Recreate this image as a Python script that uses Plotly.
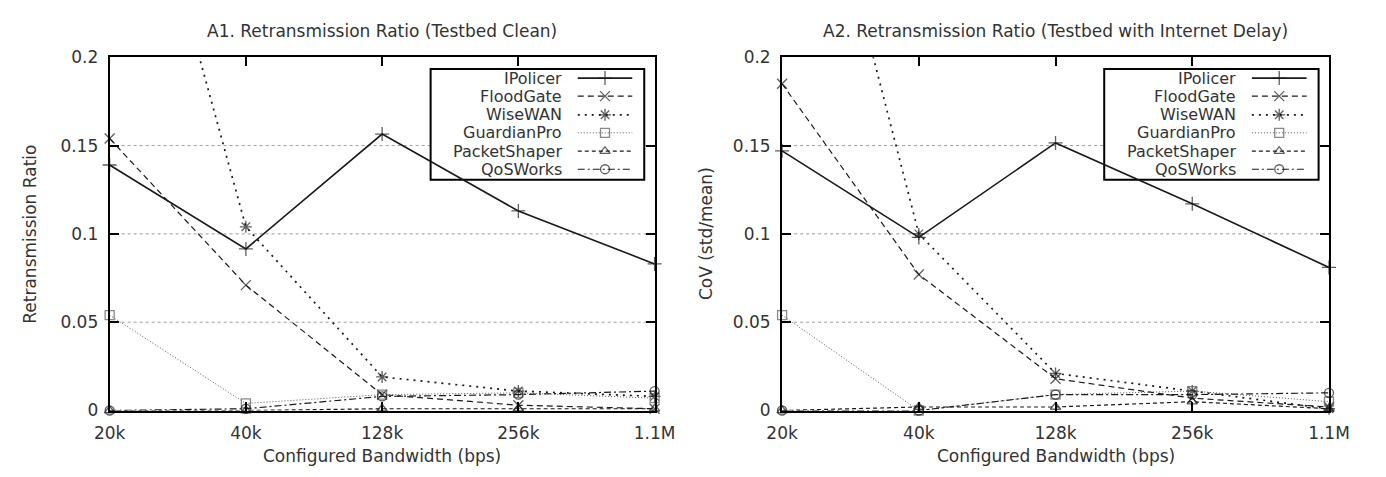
import plotly.graph_objects as go

# ---------------- data ----------------
bandwidths = ["20k", "40k", "128k", "256k", "1.1M"]
series_names = ["IPolicer", "FloodGate", "WiseWAN", "GuardianPro", "PacketShaper", "QoSWorks"]

a1_ipolicer = [0.139, 0.0915, 0.1565, 0.113, 0.083]
a1_floodgate = [0.154, 0.071, 0.009, 0.003, 0.001]
a1_wisewan = [0.385, 0.104, 0.019, 0.011, 0.008]
a1_guardianpro = [0.054, 0.004, 0.009, 0.010, 0.007]
a1_packetshaper = [0.0, 0.0, 0.001, 0.001, 0.001]
a1_qosworks = [0.0, 0.001, 0.008, 0.009, 0.011]

a2_ipolicer = [0.147, 0.098, 0.1515, 0.117, 0.081]
a2_floodgate = [0.185, 0.077, 0.018, 0.007, 0.002]
a2_wisewan = [0.40, 0.100, 0.021, 0.011, 0.001]
a2_guardianpro = [0.054, 0.0, 0.009, 0.011, 0.005]
a2_packetshaper = [0.0, 0.002, 0.002, 0.005, 0.001]
a2_qosworks = [0.0, 0.0, 0.009, 0.009, 0.010]

y_ticks = [0, 0.05, 0.1, 0.15, 0.2]
grid_vals = [0.05, 0.1, 0.15]
titles = ["A1. Retransmission Ratio (Testbed Clean)",
          "A2. Retransmission Ratio (Testbed with Internet Delay)"]
y_titles = ["Retransmission Ratio", "CoV (std/mean)"]
x_title = "Configured Bandwidth (bps)"

# ---------------- styles ----------------
OFF = 8  # page body margin
W, H = 1386 - OFF, 477 - OFF
FONT = "DejaVu Sans"
styles = {
    "IPolicer":     dict(dash="solid",           width=1.6, color="#1a1a1a", symbol="cross-thin-open", size=10),
    "FloodGate":    dict(dash="6px,4px",         width=1.2, color="#1a1a1a", symbol="x-thin-open", size=10),
    "WiseWAN":      dict(dash="2px,5px",         width=1.7, color="#1a1a1a", symbol="asterisk-open", size=10),
    "GuardianPro":  dict(dash="1px,2px",         width=1.0, color="#555555", symbol="square-open", size=9),
    "PacketShaper": dict(dash="4px,3px",         width=1.2, color="#1a1a1a", symbol="triangle-up-open", size=9),
    "QoSWorks":     dict(dash="7px,3px,2px,3px", width=1.2, color="#1a1a1a", symbol="circle-open", size=9),
}
YMAX = 0.2

panels = [
    [a1_ipolicer, a1_floodgate, a1_wisewan, a1_guardianpro, a1_packetshaper, a1_qosworks],
    [a2_ipolicer, a2_floodgate, a2_wisewan, a2_guardianpro, a2_packetshaper, a2_qosworks],
]

def px(x):
    return (x - OFF) / W

def py(y):
    return (H - (y - OFF)) / H

# pixel geometry of plot areas (in window pixels)
px_x = [(96, 656), (787, 1349)]
px_y = (49, 418)  # top, bottom
xdom = [[px(a), px(b)] for a, b in px_x]
ydom = [py(px_y[1]), py(px_y[0])]

fig = go.Figure()

for p, data in enumerate(panels):
    xa = "x" if p == 0 else "x2"
    ya = "y" if p == 0 else "y2"
    for name, vals in zip(series_names, data):
        st = styles[name]
        sizes = [st["size"] if v <= YMAX else 0 for v in vals]
        fig.add_trace(go.Scatter(
            x=bandwidths, y=vals, mode="lines+markers", name=name,
            xaxis=xa, yaxis=ya, showlegend=False, cliponaxis=False,
            line=dict(color=st["color"], width=st["width"], dash=st["dash"]),
            marker=dict(symbol=st["symbol"], size=sizes, color=st["color"],
                        line=dict(color=st["color"], width=1.3)),
        ))

# legend sample traces on hidden helper axes covering each panel
leg_rows = [0.941, 0.890, 0.837, 0.786, 0.734, 0.683]
leg_x0, leg_x1, leg_xm = 0.859, 0.959, 0.909
leg_text_x = 0.834
for p in range(2):
    xa = "x3" if p == 0 else "x4"
    ya = "y3" if p == 0 else "y4"
    for name, ry in zip(series_names, leg_rows):
        st = styles[name]
        fig.add_trace(go.Scatter(
            x=[leg_x0, leg_xm, leg_x1], y=[ry, ry, ry], mode="lines+markers",
            xaxis=xa, yaxis=ya, showlegend=False, cliponaxis=False, hoverinfo="skip",
            line=dict(color=st["color"], width=st["width"], dash=st["dash"]),
            marker=dict(symbol=st["symbol"], size=[0, st["size"], 0], color=st["color"],
                        line=dict(color=st["color"], width=1.3)),
        ))

axis_common = dict(
    showline=True, linecolor="black", linewidth=2, mirror="allticks",
    ticks="inside", ticklen=9, tickwidth=1.5, tickcolor="black",
    tickfont=dict(family=FONT, size=17, color="#333333"),
    zeroline=False, showgrid=False,
)

layout = dict(
    width=W, height=H,
    margin=dict(l=0, r=0, t=0, b=0),
    paper_bgcolor="white", plot_bgcolor="rgba(0,0,0,0)",
    font=dict(family=FONT, size=17, color="#333333"),
    showlegend=False,
)
for p in range(2):
    xk = "xaxis" if p == 0 else "xaxis2"
    yk = "yaxis" if p == 0 else "yaxis2"
    layout[xk] = dict(axis_common, domain=xdom[p], anchor="y" if p == 0 else "y2",
                      type="category", range=[0, 4], ticklabelstandoff=6)
    layout[yk] = dict(axis_common, domain=ydom, anchor="x" if p == 0 else "x2",
                      range=[0, YMAX], tickvals=y_ticks, ticklabelstandoff=6)
    hx = "xaxis3" if p == 0 else "xaxis4"
    hy = "yaxis3" if p == 0 else "yaxis4"
    layout[hx] = dict(domain=xdom[p], range=[0, 1], visible=False,
                      anchor="y3" if p == 0 else "y4")
    layout[hy] = dict(domain=ydom, range=[0, 1], visible=False,
                      anchor="x3" if p == 0 else "x4")

fig.update_layout(**layout)

# gridlines (drawn first), then legend boxes covering them
for p in range(2):
    xr = "x domain" if p == 0 else "x2 domain"
    yr = "y" if p == 0 else "y2"
    for g in grid_vals:
        fig.add_shape(type="line", xref=xr, yref=yr, x0=0, x1=1, y0=g, y1=g,
                      line=dict(color="#9a9a9a", width=1, dash="dot"), layer="below")
for p in range(2):
    xr = "x domain" if p == 0 else "x2 domain"
    yr = "y domain" if p == 0 else "y2 domain"
    fig.add_shape(type="rect", xref=xr, yref=yr, x0=0.589, x1=0.981, y0=0.653, y1=0.967,
                  line=dict(color="black", width=2), fillcolor="white", layer="below")
    for name, ry in zip(series_names, leg_rows):
        fig.add_annotation(xref=xr, yref=yr, x=leg_text_x, y=ry, text=name,
                           showarrow=False, xanchor="right", yanchor="middle",
                           font=dict(family=FONT, size=16, color="#333333"))

# titles and axis titles
for p in range(2):
    cx = px((px_x[p][0] + px_x[p][1]) / 2)
    fig.add_annotation(xref="paper", yref="paper", x=cx, y=py(22), text=titles[p],
                       showarrow=False, xanchor="center", yanchor="middle",
                       font=dict(family=FONT, size=17, color="#333333"))
    fig.add_annotation(xref="paper", yref="paper", x=cx, y=py(466), text=x_title,
                       showarrow=False, xanchor="center", yanchor="middle",
                       font=dict(family=FONT, size=17, color="#333333"))
ytx = [14, 709]
for p in range(2):
    fig.add_annotation(xref="paper", yref="paper", x=px(ytx[p]), y=py(233.5),
                       text=y_titles[p], textangle=-90, showarrow=False,
                       xanchor="center", yanchor="middle",
                       font=dict(family=FONT, size=17, color="#333333"))

fig.write_html("out.html")
